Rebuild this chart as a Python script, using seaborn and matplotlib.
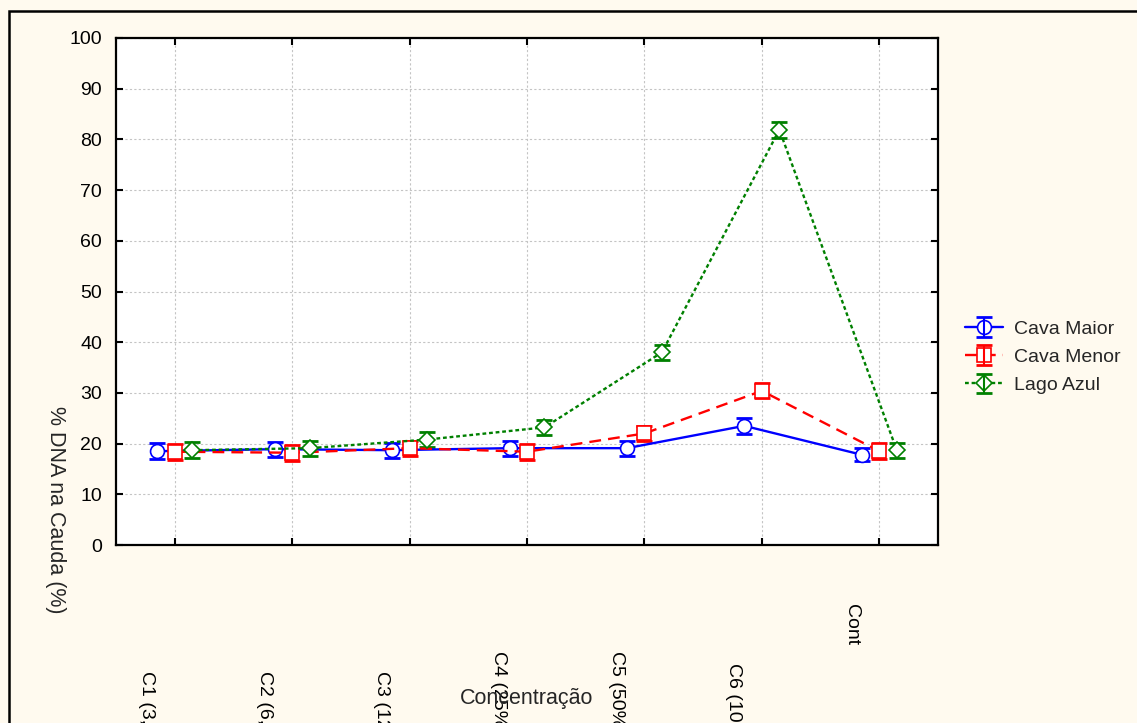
import matplotlib
matplotlib.use("Agg")
import matplotlib.pyplot as plt
import matplotlib.transforms as mtransforms
from matplotlib.patches import Rectangle
import seaborn as sns
import pandas as pd

# dados
categorias = ['C1 (3,125%)', 'C2 (6,25%)', 'C3 (12,5%)', 'C4 (25%)', 'C5 (50%)', 'C6 (100%)', 'Cont']
cava_maior = [18.5, 18.9, 18.7, 19.1, 19.1, 23.5, 17.8]
cava_maior_err = [1.55, 1.5, 1.5, 1.5, 1.5, 1.6, 1.25]
cava_menor = [18.4, 18.2, 19.1, 18.4, 22.0, 30.4, 18.5]
cava_menor_err = [1.55, 1.55, 1.5, 1.6, 1.5, 1.5, 1.6]
lago_azul = [18.7, 19.1, 20.8, 23.2, 38.0, 81.9, 18.7]
lago_azul_err = [1.55, 1.5, 1.5, 1.55, 1.5, 1.6, 1.5]
y_ticks = [0, 10, 20, 30, 40, 50, 60, 70, 80, 90, 100]

sns.set_style("ticks")
plt.rcParams['font.family'] = ['Liberation Sans', 'DejaVu Sans']

fundo = '#FFFAEF'
fig = plt.figure(figsize=(11.37, 7.23), dpi=100, facecolor=fundo)
ax = fig.add_axes([116/1137, 178/723, 822/1137, 507/723])
ax.set_facecolor('white')

series = [
    ('Cava Maior', cava_maior, cava_maior_err, '#0000FF', 'o', '-', -0.149, 10),
    ('Cava Menor', cava_menor, cava_menor_err, '#FF0000', 's', (0, (5, 3)), 0.0, 10),
    ('Lago Azul', lago_azul, lago_azul_err, '#008000', 'D', (0, (1.6, 1.2)), 0.149, 8),
]

handles = []
for nome, medias, erros, cor, marc, estilo, desloc, tam in series:
    df = pd.DataFrame({'x': [i + desloc for i in range(len(categorias))], 'y': medias})
    sns.lineplot(data=df, x='x', y='y', ax=ax, color=cor, marker=marc, linestyle=estilo,
                 linewidth=1.7, markersize=tam, markerfacecolor='white',
                 markeredgecolor=cor, markeredgewidth=1.2, errorbar=None, zorder=3)
    linha = ax.lines[-1]
    eb = ax.errorbar(df['x'], df['y'], yerr=erros, fmt='none', ecolor=cor,
                     elinewidth=1.5, capsize=6, capthick=2, zorder=2)
    handles.append((linha, eb))

ax.set_xlim(-0.5, 6.5)
ax.set_ylim(0, 100)
ax.set_yticks(y_ticks)
ax.set_xticks(range(len(categorias)))
ax.set_xticklabels(categorias, rotation=270, va='top', ha='center')
ax.grid(True, color='#C4C4C4', linestyle=(0, (2, 2)), linewidth=0.8)
ax.tick_params(direction='in', top=True, right=True, length=5, width=1.5,
               labelsize=14, colors='black')
ax.tick_params(axis='y', pad=10)
for s in ax.spines.values():
    s.set_linewidth(1.6)
    s.set_color('black')

# rotulos do eixo x deslocados como no original
pads = [91, 91, 91, 76, 76, 85, 42.5]
ticks = ax.xaxis.get_major_ticks()
for t, p in zip(ticks, pads):
    t.set_pad(p)
desl = mtransforms.ScaledTranslation(-28/100, 0, fig.dpi_scale_trans)
for t in ticks:
    t.label1.set_transform(t.label1.get_transform() + desl)

ax.set_xlabel('Concentração', fontsize=15.5, va='center')
ax.xaxis.set_label_coords(0.5, -0.302)
ax.set_ylabel('% DNA na Cauda (%)', fontsize=15.5, rotation=270, va='center', ha='center')
ax.yaxis.set_label_coords(-0.0742, 0.069)

ax.legend(handles, [s[0] for s in series], loc='center left',
          bbox_to_anchor=(0.8329, 0.506), bbox_transform=fig.transFigure,
          frameon=False, fontsize=14, handlelength=2.0, handletextpad=0.55,
          labelspacing=0.55)

fig.patches.append(Rectangle((9/1137, -0.2), 1.2, (723-11)/723 + 0.2,
                             transform=fig.transFigure, fill=False,
                             edgecolor='black', linewidth=1.8, clip_on=False))

fig.savefig('out.png', dpi=100, facecolor=fundo)
